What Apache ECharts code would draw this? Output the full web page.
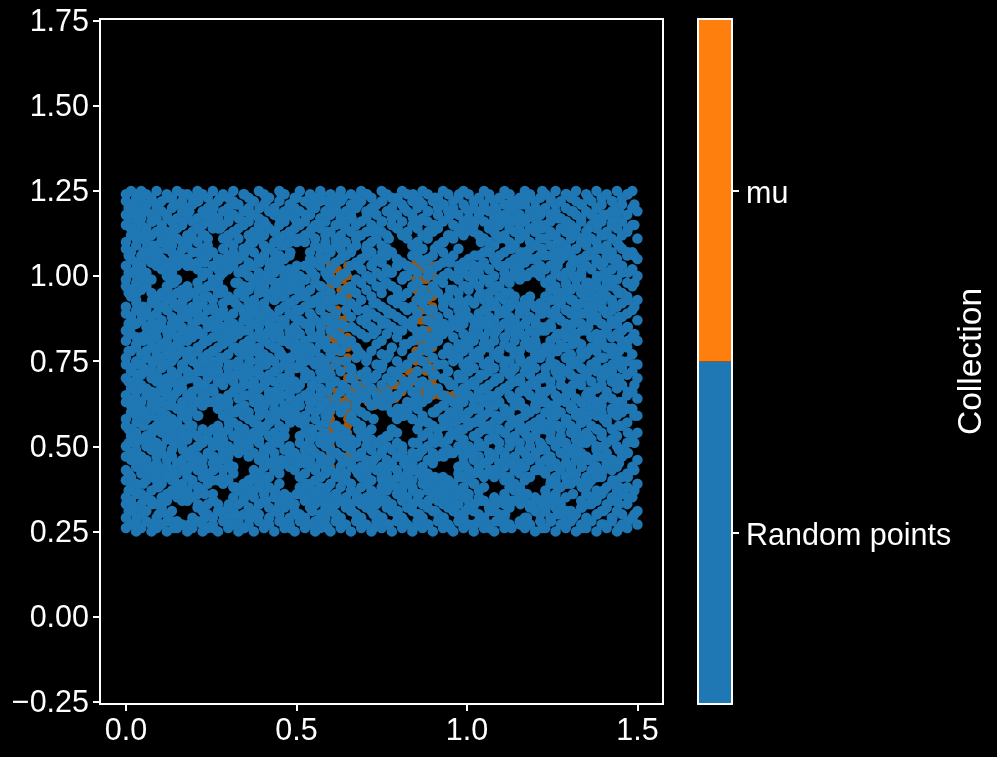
<!DOCTYPE html>
<html><head><meta charset="utf-8"><style>html,body{margin:0;background:#000}#c{width:997px;height:757px}</style>
<script src="https://cdn.jsdelivr.net/npm/echarts@6/dist/echarts.min.js"></script></head><body><div id="c"></div><script>
const xTicks=[0,0.5,1,1.5];
const yTicks=[-0.25,0,0.25,0.5,0.75,1,1.25,1.5,1.75];
const collections=["Random points","mu"];
const collectionColors=["#1f77b4","#ff7f0e"];
const muX=[.6,.6,.6,.6,.6,.6,.6,.6,.6,.6,.6,.6,.6,.6,.6,.6,.6,.6,.6,.6,.6,.6,.6,.6,.6,.6,.6,.6,.65,.65,.65,.65,.65,.65,.65,.65,.65,.65,.65,.65,.65,.65,.65,.65,.65,.65,.65,.65,.65,.65,.62,.63,.62,.63,.62,.63,.62,.63,.67,.69,.71,.73,.75,.77,.79,.81,.83,.67,.69,.71,.73,.75,.77,.79,.81,.83,.85,.85,.85,.85,.85,.85,.85,.85,.85,.85,.85,.85,.85,.85,.85,.85,.9,.9,.9,.9,.9,.9,.9,.9,.9,.9,.9,.9,.9,.9,.9,.9,.87,.88,.87,.88,.87,.88,.87,.88,.92,.94,.96,.98,.615,.625,.635,.615,.625,.635,.615,.625,.635,.615,.625,.635,.615,.625,.635,.615,.625,.635,.615,.625,.635,.87,.88,.865,.875,.885,.865,.875,.885,.865,.875,.885,.865,.875,.885];
const muY=[1.03,1,.97,.94,.91,.88,.85,.82,.79,.76,.73,.7,.67,.64,.62,.6,.58,.56,.54,.52,.5,.48,.46,.44,1.03,1.01,.99,.97,1.03,1,.97,.94,.91,.88,.85,.82,.79,.76,.73,.7,.67,.64,.62,.6,.58,.56,.54,.52,.5,.47,1.02,.96,.9,.84,.78,.72,.66,.6,.66,.64,.63,.62,.62,.63,.64,.66,.68,.7,.68,.67,.66,.66,.67,.68,.7,.72,.72,.75,.78,.81,.84,.87,.9,.93,.96,.99,1.02,1.04,.69,.66,.64,.62,1.03,1,.97,.94,.91,.88,.85,.82,.79,.76,.73,.7,.67,.65,.66,.68,1.02,.96,.9,.84,.78,.72,.66,.64,.65,.65,.65,.65,.99,.99,.99,.87,.87,.87,.75,.75,.75,.63,.63,.63,.93,.93,.93,.81,.81,.81,.54,.54,.54,.99,.99,.93,.93,.93,.87,.87,.87,.81,.81,.81,.75,.75,.75];
const blueColumnX=[0,.015,.03,.045,.06,.075,.09,.105,.12,.135,.15,.165,.18,.195,.21,.225,.24,.255,.27,.285,.3,.315,.33,.345,.36,.375,.39,.405,.42,.435,.45,.465,.48,.495,.51,.525,.54,.555,.57,.585,.6,.615,.63,.645,.66,.675,.69,.705,.72,.735,.75,.765,.78,.795,.81,.825,.84,.855,.87,.885,.9,.915,.93,.945,.96,.975,.99,1.005,1.02,1.035,1.05,1.065,1.08,1.095,1.11,1.125,1.14,1.155,1.17,1.185,1.2,1.215,1.23,1.245,1.26,1.275,1.29,1.305,1.32,1.335,1.35,1.365,1.38,1.395,1.41,1.425,1.44,1.455,1.47,1.485,1.5];
const blueColumnY=[
[26,29,33,35,40,43,47,50,56,58,63,65,70,74,76,81,84,89,91,97,99,103,108,110,115,118,122,124],
[27,31,34,38,41,46,48,53,55,60,62,67,72,73,78,83,85,88,94,96,101,105,107,112,114,119,121,125],
[25,28,32,37,39,44,49,51,54,59,64,66,69,75,79,80,86,90,93,98,102,104,109,113,116,120,123],
[26,30,33,36,42,45,47,52,57,61,63,68,71,74,77,82,87,89,96,100,103,106,111,115,117,122,125],
[28,31,35,40,43,46,50,53,58,60,65,67,72,76,78,83,85,90,97,101,105,108,110,114,119,121,124],
[25,27,34,37,41,44,49,52,55,59,62,66,70,73,79,81,86,88,92,95,99,104,107,112,116,118,123],
[26,29,33,38,40,45,47,51,56,61,64,69,71,75,77,82,84,89,92,103,106,109,113,117,120,125],
[27,32,35,39,42,48,50,54,57,60,63,68,73,76,80,85,87,91,95,102,105,110,111,115,119,122],
[25,30,34,36,41,44,46,52,55,59,65,67,70,74,78,81,84,90,93,97,100,104,108,113,118,124],
[28,31,37,40,43,47,49,53,58,62,64,69,72,75,79,83,86,88,94,98,101,107,109,112,116,120,123],
[26,28,35,38,42,45,51,54,57,61,66,68,71,77,80,82,87,91,95,99,103,106,111,114,117,121,125],
[27,34,36,39,44,46,50,55,59,60,63,67,73,74,78,84,85,89,92,96,104,108,110,115,119,122],
[25,34,37,41,43,48,52,53,58,62,65,70,72,76,81,83,88,90,94,97,103,105,109,112,118,120,124],
[26,29,35,39,40,45,49,54,56,61,64,66,71,75,77,82,86,91,95,103,107,111,113,116,121,123],
[28,32,36,38,43,47,50,53,59,63,67,69,74,78,79,84,87,89,93,98,102,104,110,114,117,122,125],
[25,27,31,37,41,44,46,51,55,62,65,68,72,76,80,83,88,92,96,100,105,108,112,115,119,124],
[26,30,33,39,42,48,52,54,63,66,70,73,77,81,85,86,90,94,97,101,106,109,111,116,120,123],
[27,29,34,36,40,45,47,50,55,63,67,71,75,78,82,87,91,93,99,103,107,114,118,121,125],
[25,31,33,40,44,46,51,53,56,61,64,69,72,74,79,84,86,89,95,98,102,105,114,117,122],
[28,30,39,41,43,48,52,54,59,62,68,70,76,80,83,85,90,92,96,101,104,108,111,115,119,124],
[26,29,32,40,45,47,50,55,58,63,65,71,73,77,81,84,88,94,102,106,110,112,116,120,123],
[27,31,35,38,42,44,49,53,57,60,66,69,74,79,82,86,89,93,103,107,109,113,118,122,125],
[25,28,33,37,48,51,54,56,61,64,67,72,75,78,83,85,91,95,98,101,105,111,114,117,121],
[26,30,34,36,39,49,52,55,59,62,68,70,73,77,80,87,90,94,97,102,106,108,115,119,124],
[27,29,32,38,40,47,50,53,58,60,65,71,74,76,81,84,88,92,96,100,104,109,112,116,120,123],
[25,31,35,37,41,43,48,54,57,63,66,69,72,78,82,86,89,93,99,103,107,110,113,118,122],
[28,30,33,39,42,46,51,52,56,61,64,67,73,75,79,83,85,91,95,98,101,105,111,115,117,125],
[26,34,36,40,44,47,49,55,60,62,68,70,74,77,81,87,90,92,97,100,106,109,112,116,121,124],
[27,29,32,38,41,45,50,53,57,59,65,66,71,76,80,84,86,89,94,99,102,104,108,114,119,123],
[25,31,35,37,43,46,48,54,58,61,63,69,72,75,79,82,88,93,96,101,103,107,110,113,118,120],
[28,30,33,39,42,44,51,52,56,60,64,67,73,77,78,83,85,90,95,98,104,106,111,115,117,122,125],
[26,32,34,36,45,49,53,55,59,62,68,70,74,76,81,86,87,91,94,97,100,105,109,112,116,119,124],
[27,29,35,44,47,50,58,61,65,66,71,72,75,80,84,89,92,96,99,102,106,110,113,118,121],
[25,31,33,43,46,48,58,60,63,67,69,73,77,79,82,85,88,93,98,101,111,114,117,120,123],
[28,30,36,38,41,45,51,53,57,62,64,68,74,76,78,83,87,90,94,97,100,111,115,119,125],
[26,29,34,37,42,47,49,54,56,59,65,70,72,75,80,81,86,91,95,99,103,110,112,116,122],
[27,32,35,39,44,46,50,52,55,61,63,66,71,77,79,84,85,89,92,96,102,105,107,113,118,121,124],
[25,28,33,36,40,43,48,53,58,60,64,68,69,74,78,82,87,93,98,100,104,109,111,115,120,123],
[26,30,34,38,41,45,47,51,56,62,65,67,72,76,80,83,86,90,94,97,103,106,108,114,117,122,125],
[27,29,32,37,42,44,50,54,57,59,63,70,73,75,81,88,92,96,101,105,110,112,116,119],
[25,31,35,39,43,46,49,52,61,68,71,77,84,87,91,95,99,102,107,113,118,121,124],
[28,30,33,36,41,48,53,56,64,69,74,79,83,89,93,98,104,109,111,115,120,123],
[26,29,34,38,44,47,51,55,60,66,72,78,82,86,94,100,105,108,112,117,122,125],
[27,32,35,40,42,46,50,54,62,67,75,80,85,90,96,101,106,110,114,116,119],
[25,31,33,37,39,45,49,52,58,65,70,73,81,88,92,97,103,107,113,118,121,124],
[28,30,34,36,43,47,51,57,61,63,68,76,79,84,91,95,99,104,109,111,115,120,123],
[26,29,33,38,41,44,48,53,56,60,66,71,77,83,87,93,98,102,105,112,116,122,125],
[27,32,35,39,42,46,50,54,59,64,69,72,75,82,86,90,96,100,106,108,113,117,119,124],
[25,31,34,37,40,45,49,52,55,62,67,70,78,85,89,94,99,103,107,110,115,120,123],
[28,30,33,36,43,47,51,63,65,71,74,80,84,88,92,97,101,105,111,114,118,121],
[26,29,35,38,41,44,48,52,64,68,73,77,81,87,91,95,100,104,109,113,116,122,125],
[27,32,34,37,42,46,50,53,62,66,70,76,83,86,90,98,102,106,108,112,119,124],
[25,31,33,39,40,45,49,55,60,64,69,72,79,85,89,93,97,101,107,115,117,120,123],
[28,30,36,38,43,47,51,54,58,65,71,75,82,88,92,96,103,105,114,118,122],
[26,29,34,37,41,48,49,50,59,61,67,73,78,84,87,94,99,104,112,116,121,125],
[27,32,35,39,42,44,46,60,63,68,74,80,86,90,95,100,103,111,113,119,124],
[25,31,33,38,40,45,48,58,62,66,70,76,81,85,91,97,102,106,109,115,118,122],
[28,30,34,36,43,47,51,55,61,65,72,77,83,89,93,98,101,107,110,114,120,123],
[26,29,33,39,41,44,49,53,59,63,69,75,79,84,92,96,104,108,112,117,121,125],
[27,32,37,40,42,46,50,54,57,64,68,73,78,82,87,94,100,105,111,116,119,124],
[25,31,35,38,45,48,52,56,60,66,71,76,80,86,90,97,102,106,113,115,122],
[28,30,34,36,39,47,53,55,61,67,74,81,85,88,95,99,103,109,114,118,120,123],
[26,29,33,37,41,48,51,58,62,65,70,77,83,91,93,98,104,107,110,116,121,125],
[27,32,35,38,40,49,52,56,59,64,69,72,79,84,89,94,101,105,112,117,119,124],
[25,31,34,36,39,48,54,57,60,63,68,75,78,82,87,92,96,100,106,111,115,120,122],
[28,30,33,37,42,44,50,53,58,61,66,71,76,80,85,90,95,99,103,108,113,118,123],
[26,29,35,38,41,45,47,52,55,59,63,67,70,74,78,83,86,91,97,101,104,112,116,121,125],
[27,32,34,36,40,43,48,50,56,60,65,68,72,75,79,82,88,93,96,100,105,114,117,119,124],
[25,31,33,39,42,46,49,53,57,62,64,69,73,77,81,84,87,92,98,102,103,113,115,120,122],
[28,30,35,37,44,47,51,54,58,61,66,70,76,78,83,85,89,94,97,101,106,112,118,123],
[26,29,34,38,41,45,50,55,59,63,67,71,74,80,82,86,90,93,99,104,107,111,116,121,125],
[27,32,33,42,46,48,52,56,60,65,68,72,75,79,84,88,91,95,98,102,108,110,114,119,124],
[25,31,35,41,43,47,53,57,62,64,69,73,77,81,83,87,92,96,100,105,109,113,117,120,122],
[28,30,34,42,45,49,51,55,58,63,66,70,76,78,85,89,94,97,103,106,111,115,118,123],
[26,29,33,36,40,44,48,54,59,61,67,72,74,80,82,86,90,93,99,101,107,112,116,121,125],
[27,32,38,41,46,50,52,56,60,65,68,71,75,79,84,88,91,95,98,104,108,110,114,119,124],
[34,37,39,43,47,53,57,62,64,69,73,77,81,83,87,92,94,100,102,105,109,113,117,120,122],
[28,35,38,42,45,49,51,55,58,63,66,70,76,78,85,89,91,99,103,106,111,115,118,123],
[26,29,34,36,40,44,48,54,59,61,67,72,74,80,82,86,90,93,100,104,107,112,116,121,125],
[27,32,33,41,46,50,52,56,60,65,68,71,75,79,84,88,92,94,101,105,108,110,114,119,124],
[25,31,35,43,47,53,57,62,64,69,73,77,81,83,87,91,102,105,109,113,117,120,122],
[28,30,34,43,45,49,51,55,58,63,66,70,76,78,85,89,92,100,103,106,111,115,118,123],
[26,31,35,37,42,46,49,55,60,63,66,71,73,79,84,85,91,94,98,102,106,111,115,120,124],
[28,29,33,39,44,47,52,54,57,62,67,69,75,77,81,86,89,96,99,103,109,113,116,118,123],
[25,32,36,40,41,45,50,56,59,61,65,72,74,78,82,88,90,93,97,101,104,107,112,119,121,125],
[27,30,33,38,43,48,53,55,60,64,68,70,73,80,83,87,92,95,100,105,108,110,114,117,122],
[26,29,35,41,45,47,51,57,58,63,67,72,76,79,84,86,90,94,98,101,106,109,113,116,120,124],
[28,31,39,43,44,49,54,56,61,62,66,71,74,77,82,85,89,93,96,102,103,107,111,115,119,123],
[25,30,40,42,46,50,52,55,59,64,69,70,75,81,83,88,91,97,99,104,108,112,114,118,122,125],
[27,32,34,39,45,48,53,57,60,63,68,73,76,78,80,86,92,95,100,101,105,110,116,117,121],
[26,29,36,38,41,47,51,54,58,62,65,71,72,77,84,85,89,94,98,103,106,109,113,119,124],
[28,33,35,40,43,46,52,56,61,64,66,69,74,79,82,87,89,93,96,102,107,111,115,118,122],
[25,30,34,37,44,49,50,55,59,63,67,72,75,78,83,88,91,97,99,104,105,110,114,117,120,125],
[27,31,36,41,42,47,53,54,60,62,68,70,76,80,81,86,92,95,100,103,108,112,116,121,123],
[26,32,33,38,45,48,51,57,58,65,66,71,73,79,84,85,89,94,98,101,106,109,113,118,124],
[28,29,35,39,43,46,52,55,61,64,69,72,77,78,82,87,90,93,97,102,107,111,115,119,122],
[25,31,34,37,40,44,50,53,59,62,67,70,74,76,83,86,91,96,99,104,105,110,114,117,120,125],
[27,30,36,41,47,49,56,60,63,68,73,75,80,84,88,92,95,101,103,108,112,116,121,123],
[26,33,38,42,48,51,57,65,71,79,85,89,94,98,106,113,118,124],
[29,35,44,52,61,66,72,77,82,90,97,102,107,115,120,125],
[27,31,39,46,54,59,64,70,74,81,87,93,100,105,111,119]
];
const blueExtraX=[.008,.031,.051,.077,.096,.122,.141,.167,.186,.212,.231,.257,.276,.302,.321,.347,.366,.392,.411,.437,.456,.482,.501,.527,.546,.572,.591,.617,.636,.662,.681,.707,.726,.752,.771,.797,.816,.842,.861,.887,.906,.932,.951,.977,.996,1.022,1.041,1.067,1.086,1.112,1.131,1.157,1.176,1.202,1.221,1.247,1.266,1.292,1.311,1.337,1.356,1.382,1.401,1.427,1.446,1.472,1.491];
const blueExtraY=[
[31,37,42,51,55,64,69,78,83,86,95,101,106,117,120],
[29,36,45,48,57,61,71,74,82,92,95,100,111,118,124],
[34,39,46,56,60,67,73,81,88,91,99,107,112,119],
[27,33,42,50,54,63,72,75,84,93,104,109,116,122],
[30,38,44,49,58,66,70,79,86,91,94,107,113,120],
[28,35,41,47,57,62,68,77,83,90,96,103,110,117,123],
[26,37,40,51,55,65,71,76,85,92,98,105,114,121],
[36,43,49,53,62,69,74,81,88,93,105,108,116,124],
[27,35,44,47,56,60,70,78,84,89,95,104,111,119],
[33,38,46,50,59,63,72,79,83,91,96,107,114,122],
[29,36,41,52,65,68,75,81,87,94,101,104,112,118],
[26,34,43,47,51,66,72,78,85,90,97,103,115,120],
[31,40,46,50,54,64,69,76,82,88,95,100,105,114,123],
[27,33,44,48,57,61,70,74,83,87,93,104,112,117],
[30,38,49,53,60,67,71,79,85,92,98,106,113,121],
[26,35,50,55,62,65,73,78,84,89,94,101,107,116,124],
[29,36,40,52,58,68,75,80,86,91,97,103,110,118],
[33,38,47,54,59,64,71,77,82,88,96,104,114,120],
[27,34,41,49,56,63,69,74,83,90,95,100,108,115,122],
[31,37,43,51,58,66,72,79,85,93,98,105,113,119],
[28,35,46,53,60,65,70,77,81,87,94,102,109,117,124],
[26,33,48,57,64,69,76,83,89,92,99,107,112,121],
[30,36,47,59,62,67,73,80,84,90,96,103,110,116,123],
[27,34,39,45,50,58,65,71,78,86,94,99,112,118],
[31,37,44,49,55,63,68,75,82,88,92,101,114,120],
[28,35,41,47,53,61,70,74,80,85,91,97,105,116,124],
[26,33,38,46,52,59,66,72,79,87,93,100,108,113,122],
[30,36,42,48,56,62,75,86,98,110,119],
[27,34,40,45,53,68,81,93,106,115,123],
[31,37,44,50,59,72,85,96,108,117],
[28,35,42,47,55,64,78,90,103,112,121],
[33,39,43,52,66,76,88,100,109,118,124],
[26,30,36,46,58,70,83,92,104,113,120],
[29,34,40,49,62,74,86,97,107,116,122],
[27,33,38,44,53,65,77,89,101,111,119],
[31,36,41,47,61,72,84,94,103,114,123],
[28,35,39,45,59,69,80,91,100,112,120],
[26,33,37,43,51,63,76,87,97,109,117,124],
[30,36,42,48,57,68,82,94,105,116,122],
[27,34,40,46,54,66,79,90,102,113,119],
[31,37,41,51,60,71,83,96,108,115,123],
[29,35,39,47,56,62,74,86,92,100,110,121],
[26,33,38,48,53,60,68,77,85,96,104,112,118],
[28,36,41,49,55,63,70,79,88,93,102,114,124],
[31,35,44,50,58,65,73,81,90,97,103,113,120],
[27,33,39,47,53,61,68,76,85,92,100,106,116,122],
[29,34,42,50,57,64,71,78,87,95,103,110,119],
[26,31,43,48,55,62,73,80,86,93,99,107,115,123],
[28,33,42,52,59,65,70,77,84,91,97,104,112,120],
[30,35,41,47,54,60,67,75,82,89,95,103,111,118,124],
[26,34,39,45,51,58,64,72,79,85,92,100,108,116,122],
[27,33,37,44,49,56,62,69,75,83,90,101,107,113,121],
[29,36,41,47,53,60,66,73,81,87,92,100,106,117,123],
[31,34,43,48,55,61,68,76,80,86,91,101,109,115,120],
[26,33,43,50,57,64,70,77,84,89,102,108,114,119,125],
[28,35,40,46,52,59,67,74,79,85,93,99,106,112,122],
[30,34,38,44,51,56,63,71,78,83,88,95,103,110,117],
[27,31,39,45,50,58,65,72,76,82,90,97,101,108,116,124],
[29,36,42,48,54,61,68,74,80,86,93,100,105,113,119],
[26,32,38,44,51,57,63,70,77,84,89,96,102,111,121],
[28,33,39,46,53,59,66,72,78,85,91,98,106,114,123],
[30,35,41,47,55,62,67,73,81,87,94,100,108,115,120],
[27,31,37,43,50,58,64,71,76,83,90,96,104,112,118],
[29,34,40,46,52,60,69,74,79,86,92,99,105,116,122],
[26,33,38,45,49,56,63,70,78,82,88,95,103,109,119],
[28,35,41,48,54,61,66,75,81,85,93,101,107,114,124],
[30,37,43,51,59,68,74,83,91,98,106,115,121]
];
const muPoints=muX.map((x,i)=>[x,muY[i]]);
const bluePoints=blueColumnX.flatMap((x,i)=>blueColumnY[i].map(y=>[x,y/100]))
 .concat(blueExtraX.flatMap((x,i)=>blueExtraY[i].map(y=>[x,y/100])));
const font='"Liberation Sans",Arial,sans-serif';
const white='#ffffff';
const line={show:true,onZero:false,lineStyle:{color:white,width:2}};
const fmt=v=>String(v<0?'\u2212':'')+Math.abs(v).toFixed(2);
const labelStyle=pad=>({a:{color:white,fontSize:30.5,fontFamily:font,padding:[pad,0,0,0]}});
const chart=echarts.init(document.getElementById('c'),null,{renderer:'canvas'});
chart.setOption({
 backgroundColor:'#000',animation:false,
 grid:[
  {left:100,top:19,width:563,height:685,show:true,borderColor:white,borderWidth:2,backgroundColor:'#000',outerBoundsMode:'none'},
  {left:698,top:19,width:34,height:685,outerBoundsMode:'none'}
 ],
 xAxis:[
  {gridIndex:0,type:'value',min:-0.076,max:1.575,splitLine:{show:false},axisLine:line,
   axisTick:{show:true,length:7,lineStyle:{color:white,width:2},customValues:xTicks},
   axisLabel:{color:white,fontSize:30.5,fontFamily:font,margin:12,customValues:xTicks,formatter:v=>v.toFixed(1)}},
  {gridIndex:1,type:'value',min:0,max:1,position:'bottom',axisLine:line,axisTick:{show:false},axisLabel:{show:false},splitLine:{show:false},z:5},
  {gridIndex:1,type:'value',min:0,max:1,position:'top',axisLine:line,axisTick:{show:false},axisLabel:{show:false},splitLine:{show:false},z:5}
 ],
 yAxis:[
  {gridIndex:0,type:'value',min:-0.257,max:1.755,splitLine:{show:false},axisLine:line,
   axisTick:{show:true,length:7,lineStyle:{color:white,width:2},customValues:yTicks},
   axisLabel:{margin:11,customValues:yTicks,formatter:v=>'{a|'+fmt(v)+'}',rich:labelStyle(4)}},
  {gridIndex:1,type:'category',data:collections,position:'right',axisLine:line,z:5,
   axisTick:{show:true,alignWithLabel:true,length:7,lineStyle:{color:white,width:2}},
   axisLabel:{margin:14,formatter:v=>'{a|'+v+'}',rich:labelStyle(8)},
   name:'Collection',nameLocation:'middle',nameRotate:90,nameGap:223,
   nameTextStyle:{color:white,fontSize:33.5,fontFamily:font}},
  {gridIndex:1,type:'category',data:collections,position:'left',axisLine:line,axisTick:{show:false},axisLabel:{show:false},z:5}
 ],
 series:[
  {name:'mu',type:'scatter',xAxisIndex:0,yAxisIndex:0,data:muPoints,symbolSize:9,itemStyle:{color:'#a0550a',opacity:1},silent:true,z:2},
  {name:'Random points',type:'scatter',xAxisIndex:0,yAxisIndex:0,data:bluePoints,symbolSize:10.5,itemStyle:{color:'#1f77b4',opacity:1},silent:true,z:3},
  {type:'bar',xAxisIndex:1,yAxisIndex:1,barWidth:'100%',silent:true,
   data:collectionColors.map(c=>({value:1,itemStyle:{color:c}}))}
 ]
});
</script></body></html>
